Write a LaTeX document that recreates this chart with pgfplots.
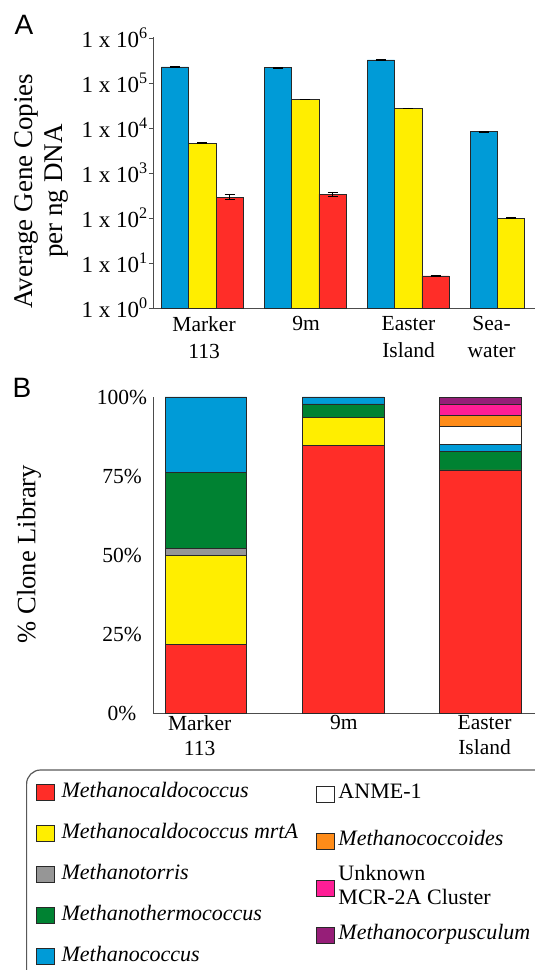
\documentclass[border=0pt]{standalone}
\usepackage{pgfplots}
\pgfplotsset{compat=1.18}
\usepackage{fontspec}
\setmainfont{Liberation Serif}
\newfontfamily\panelfont{Liberation Sans}

\definecolor{cblue}{RGB}{0,155,215}
\definecolor{cyellow}{RGB}{255,238,0}
\definecolor{cred}{RGB}{255,45,40}
\definecolor{cgray}{RGB}{150,150,150}
\definecolor{cgreen}{RGB}{0,130,50}
\definecolor{corange}{RGB}{255,140,25}
\definecolor{cpink}{RGB}{255,30,150}
\definecolor{cpurple}{RGB}{150,30,120}
\definecolor{edge}{RGB}{40,40,40}

\pgfplotsset{
  sqlegend/.style={legend image code/.code={\draw[##1,draw=edge,line width=0.6pt] (0pt,-8pt) rectangle (18pt,8pt);}},
}

\begin{document}
\begin{tikzpicture}[x=1pt,y=1pt]
% ---------------- Panel A ----------------
\begin{axis}[
  at={(153pt,662pt)}, anchor=south west,
  scale only axis, width=399.3pt, height=271.3pt,
  xmin=-0.48, xmax=3.4,
  ymode=log, ymin=1, ymax=1.07e6,
  axis lines*=left,
  axis line style={-, draw=black!70, line width=0.8pt},
  ybar=0pt, bar width=27.3pt,
  xtick={0.016,1.007,2.003,2.81},
  xticklabels={Marker\\113, 9m, Easter\\Island, Sea-\\water},
  xticklabel style={align=center, font=\fontsize{21.5}{27}\selectfont, inner sep=4pt},
  x tick style={draw=none},
  ytick={1,10,100,1000,10000,100000,1000000},
  yticklabels={1 x 10\textsuperscript{0},1 x 10\textsuperscript{1},1 x 10\textsuperscript{2},1 x 10\textsuperscript{3},1 x 10\textsuperscript{4},1 x 10\textsuperscript{5},1 x 10\textsuperscript{6}},
  yminorticks=false,
  y tick style={draw=black!70, line width=0.8pt},
  tick align=outside, major tick length=4pt,
  yticklabel style={font=\fontsize{23}{26}\selectfont, inner xsep=1pt},
  ylabel={Average Gene Copies\\per ng DNA},
  ylabel style={at={(axis description cs:-0.2805,0.431)}, anchor=center, align=center, font=\fontsize{27}{30}\selectfont},
  clip=false,
]
\addplot[fill=cblue, draw=edge, line width=0.6pt,
  error bars/.cd, y dir=both, y explicit,
  error bar style={black, line width=0.9pt},
  error mark options={black, line width=0.9pt, mark size=5pt, rotate=90}]
  table[x=x, y=y, y error=e] {
x y e
0 2.27e5 6e3
1 2.2e5 5e3
2 3.25e5 1.5e4
3 8.3e3 2e2
};
\addplot[fill=cyellow, draw=edge, line width=0.6pt,
  error bars/.cd, y dir=both, y explicit,
  error bar style={black, line width=0.9pt},
  error mark options={black, line width=0.9pt, mark size=5pt, rotate=90}]
  table[x=x, y=y, y error=e] {
x y e
0 4.6e3 1e2
1 4.33e4 8e2
2 2.73e4 6e2
3 99 3
};
\addplot[fill=cred, draw=edge, line width=0.6pt,
  error bars/.cd, y dir=both, y explicit,
  error bar style={black, line width=0.9pt},
  error mark options={black, line width=0.9pt, mark size=5pt, rotate=90}]
  table[x=x, y=y, y error=e] {
x y e
0 290 38
1 340 32
2 5.15 0.05
};
\end{axis}

% ---------------- Panel B ----------------
\begin{axis}[
  at={(153pt,257pt)}, anchor=south west,
  scale only axis, width=389.2pt, height=316pt,
  xmin=-0.385, xmax=2.45,
  ymin=0, ymax=100,
  axis lines*=left,
  axis line style={-, draw=black!70, line width=0.8pt},
  ybar stacked, bar width=81.7pt,
  xtick={-0.045,1.005,2.03},
  xticklabels={Marker\\113, 9m, Easter\\Island},
  xticklabel style={align=center, font=\fontsize{21.5}{25}\selectfont, inner sep=2pt},
  ytick={0,25,50,75,100},
  yticklabels={0\%,25\%,50\%,75\%,100\%},
  tick style={draw=none}, major tick length=0pt,
  yticklabel style={anchor=center, xshift=-31pt, font=\fontsize{21.5}{25}\selectfont},
  ylabel={\% Clone Library},
  ylabel style={at={(axis description cs:-0.3186,0.503)}, anchor=center, font=\fontsize{26.5}{30}\selectfont},
  legend style={at={(axis description cs:-0.3011,-0.2136)}, anchor=north west,
    draw=none, fill=none, inner sep=0pt, row sep=17pt,
    font=\fontsize{22}{26}\selectfont,
    nodes={inner sep=2pt, text height=15pt, text depth=5pt},
    /tikz/every odd column/.append style={column sep=5pt}},
  legend cell align=left,
  clip=false,
]
\addplot[fill=cred, draw=edge, line width=0.6pt, forget plot] coordinates {(0,21.7) (1,84.8) (2,76.9)};
\addplot[fill=cyellow, draw=edge, line width=0.6pt, forget plot] coordinates {(0,28.3) (1,8.7) (2,0)};
\addplot[fill=cgray, draw=edge, line width=0.6pt, forget plot] coordinates {(0,2.2) (1,0) (2,0)};
\addplot[fill=cgreen, draw=edge, line width=0.6pt, forget plot] coordinates {(0,23.9) (1,4.3) (2,5.8)};
\addplot[fill=cblue, draw=edge, line width=0.6pt, forget plot] coordinates {(0,23.9) (1,2.2) (2,2.3)};
\addplot[fill=white, draw=edge, line width=0.6pt, forget plot] coordinates {(0,0) (1,0) (2,5.7)};
\addplot[fill=corange, draw=edge, line width=0.6pt, forget plot] coordinates {(0,0) (1,0) (2,3.6)};
\addplot[fill=cpink, draw=edge, line width=0.6pt, forget plot] coordinates {(0,0) (1,0) (2,3.4)};
\addplot[fill=cpurple, draw=edge, line width=0.6pt, forget plot] coordinates {(0,0) (1,0) (2,2.3)};
\addlegendimage{sqlegend, fill=cred}
\addlegendentry{\textit{Methanocaldococcus}}
\addlegendimage{sqlegend, fill=cyellow}
\addlegendentry{\textit{Methanocaldococcus mrtA}}
\addlegendimage{sqlegend, fill=cgray}
\addlegendentry{\textit{Methanotorris}}
\addlegendimage{sqlegend, fill=cgreen}
\addlegendentry{\textit{Methanothermococcus}}
\addlegendimage{sqlegend, fill=cblue}
\addlegendentry{\textit{Methanococcus}}
\end{axis}

% ---------------- legend, second column ----------------
\begin{axis}[
  at={(153pt,257pt)}, anchor=south west,
  scale only axis, width=389.2pt, height=316pt,
  xmin=-0.385, xmax=2.45, ymin=0, ymax=100,
  hide axis,
  legend style={at={(axis description cs:0.418,-0.2174)}, anchor=north west,
    draw=none, fill=none, inner sep=0pt, row sep=23pt,
    font=\fontsize{22}{26}\selectfont,
    nodes={inner sep=2pt, text height=15pt, text depth=5pt},
    /tikz/every odd column/.append style={column sep=2pt}},
  legend cell align=left,
]
\addlegendimage{sqlegend, fill=white}
\addlegendentry{ANME-1}
\addlegendimage{sqlegend, fill=corange}
\addlegendentry{\textit{Methanococcoides}}
\addlegendimage{sqlegend, fill=cpink}
\addlegendentry{\begin{tabular}[c]{@{}l@{}}Unknown\\[-2pt]MCR-2A Cluster\end{tabular}}
\addlegendimage{sqlegend, fill=cpurple}
\addlegendentry{\textit{Methanocorpusculum}}
\end{axis}

% legend frame
\draw[draw=black!65, line width=1.2pt, rounded corners=14pt] (26.6,200) rectangle (600,-40);

% panel letters
\node[font=\panelfont\fontsize{28}{30}\selectfont] at (24,945) {A};
\node[font=\panelfont\fontsize{28}{30}\selectfont] at (22,582) {B};

\pgfresetboundingbox
\useasboundingbox (0,0) rectangle (535,970);
\end{tikzpicture}
\end{document}
